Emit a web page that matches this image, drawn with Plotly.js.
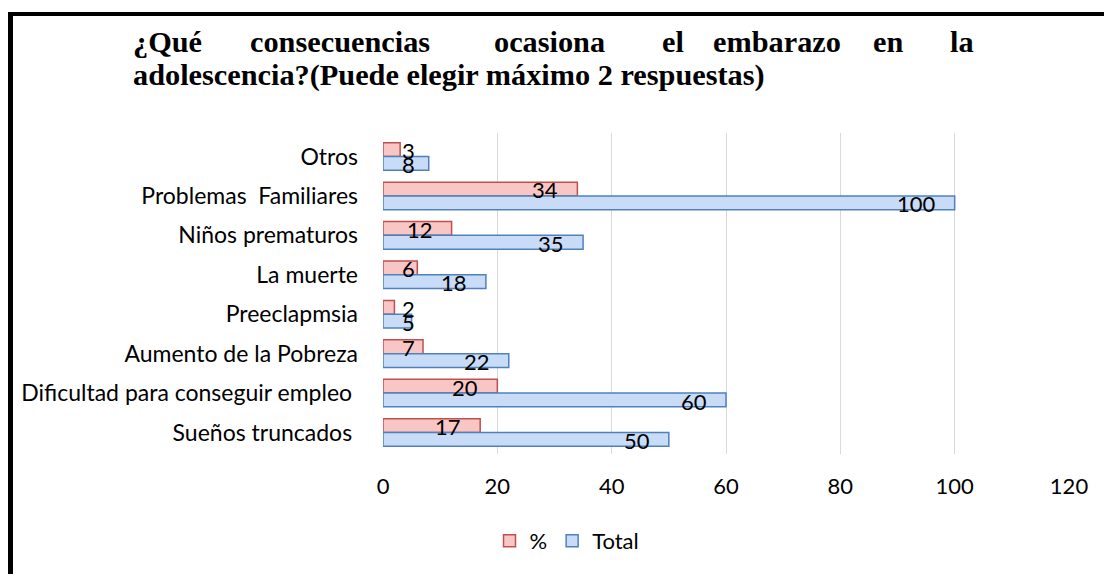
<!DOCTYPE html>
<html>
<head>
<meta charset="utf-8">
<script src="https://cdn.plot.ly/plotly-3.0.1.min.js"></script>
<style>
  html, body { margin: 0; padding: 0; background: #fff; }
  #wrap { position: relative; width: 1104px; height: 574px; overflow: hidden; }
  #chart { position: absolute; left: 0; top: 0; width: 1104px; height: 574px; }
  #frame { position: absolute; left: 8px; top: 12px; width: 1200px; height: 700px;
           border-left: 5px solid #000; border-top: 4px solid #000; pointer-events: none; }
</style>
</head>
<body>
<div id="wrap">
  <div id="chart"></div>
  <div id="frame"></div>
</div>
<script>
// ---- data ----
const categories = [
  "Otros",
  "Problemas\u00a0 Familiares",
  "Niños prematuros",
  "La muerte",
  "Preeclapmsia",
  "Aumento de la Pobreza",
  "Dificultad para conseguir empleo\u00a0",
  "Sueños truncados\u00a0"
];
const pctValues   = [3, 34, 12, 6, 2, 7, 20, 17];
const totalValues = [8, 100, 35, 18, 5, 22, 60, 50];
const xTicks = [0, 20, 40, 60, 80, 100, 120];
const seriesNames = ["%", "Total"];

const titleLine1Words = ["¿Qué", "consecuencias", "ocasiona", "el", "embarazo", "en", "la"];
const titleLine1X     = [131, 248, 492, 660, 711, 871, 948];
const titleLine2 = "adolescencia?(Puede elegir máximo 2 respuestas)";

// ---- layout geometry ----
const W = 1104, H = 574;
const M = { l: 383, r: 35, t: 133, b: 120 };
const plotW = W - M.l - M.r, plotH = H - M.t - M.b;
const xMax = 120;
const ppu = plotW / xMax;
const px2paperX = px => (px - M.l) / plotW;
const py2paperY = py => (H - M.b - py) / plotH;

const labelFont = { family: "Lato, 'Open Sans', sans-serif", size: 22, color: "#000" };
const catFont   = { family: "Lato, 'Open Sans', sans-serif", size: 23, color: "#000" };
const titleFont = { family: "'Liberation Serif', 'Times New Roman', serif", size: 30.3, color: "#000" };

const traces = [
  {
    type: "bar", orientation: "h", name: seriesNames[0],
    y: categories, x: pctValues,
    marker: { color: "#f8c6c5", line: { color: "#c0504d", width: 1.5 } },
    hoverinfo: "x+y"
  },
  {
    type: "bar", orientation: "h", name: seriesNames[1],
    y: categories, x: totalValues,
    marker: { color: "#c8dbf7", line: { color: "#4f81bd", width: 1.5 } },
    hoverinfo: "x+y"
  }
];

// data labels ("inside end" style)
const annotations = [];
function addLabels(values, yshift) {
  values.forEach((v, i) => {
    const txt = String(v);
    const textW = txt.length * 12.5;
    const barPx = v * ppu;
    const fitsEnd = barPx - 17 - textW >= 17;
    annotations.push({
      x: fitsEnd ? v : 0, y: categories[i], xref: "x", yref: "y",
      text: txt, showarrow: false,
      xanchor: fitsEnd ? "right" : "left",
      xshift: fitsEnd ? -17 : 17,
      yshift: yshift, font: labelFont
    });
  });
}
addLabels(pctValues, 6);
addLabels(totalValues, -8);

// title (justified first line, left-aligned second line)
titleLine1Words.forEach((w, i) => {
  annotations.push({
    x: px2paperX(titleLine1X[i]), y: py2paperY(42), xref: "paper", yref: "paper",
    text: "<b>" + w + "</b>", showarrow: false, xanchor: "left", yanchor: "middle",
    font: titleFont
  });
});
annotations.push({
  x: px2paperX(131), y: py2paperY(75), xref: "paper", yref: "paper",
  text: "<b>" + titleLine2 + "</b>", showarrow: false, xanchor: "left", yanchor: "middle",
  font: titleFont
});

const layout = {
  width: W, height: H,
  margin: M,
  paper_bgcolor: "#fff", plot_bgcolor: "#fff",
  barmode: "group", bargap: 0.3, bargroupgap: 0,
  showlegend: true,
  legend: {
    orientation: "h", x: px2paperX(567), y: py2paperY(541),
    xanchor: "center", yanchor: "middle",
    font: labelFont, itemwidth: 30
  },
  xaxis: {
    range: [0, xMax], tickvals: xTicks, ticktext: xTicks.map(String),
    showgrid: true, gridcolor: "#d9d9d9", gridwidth: 1,
    zeroline: false, showline: false, ticks: "",
    ticklabelstandoff: 17,
    tickfont: labelFont, fixedrange: true
  },
  yaxis: {
    type: "category", autorange: "reversed",
    showgrid: false, zeroline: false, showline: false, ticks: "",
    ticklabelstandoff: 24,
    tickfont: catFont, fixedrange: true
  },
  annotations: annotations,
  font: labelFont
};

Plotly.newPlot("chart", traces, layout, { displayModeBar: false, staticPlot: true });
</script>
</body>
</html>
